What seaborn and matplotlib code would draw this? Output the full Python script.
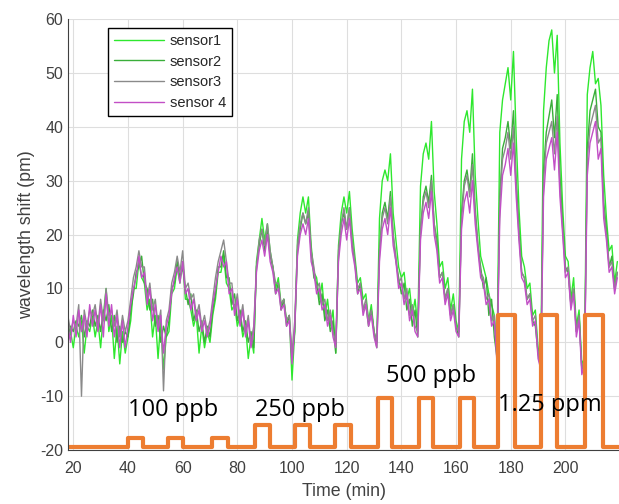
# -*- coding: utf-8 -*-
# Sensor response to gas pulses (wavelength shift vs time)

import numpy as np
import pandas as pd
import matplotlib
matplotlib.use("Agg")
import matplotlib.pyplot as plt
import seaborn as sns

sns.set_style("whitegrid")
plt.rcParams["font.family"] = ["Liberation Sans", "DejaVu Sans"]
plt.rcParams["axes.unicode_minus"] = False

# -------------------------------------------------
# STEP 1 — Data (one value per minute, 18 .. 219 min)
# -------------------------------------------------
time_min = list(range(18, 220))

sensor1 = [
    0, 2, -1, 3, 1, 4, -2, 3, 2, 5,
    1, 4, -1, 5, 10, 2, 5, -3, 3, -4,
    2, -2, 1, 4, 10, 10, 15, 12, 11, 6,
    8, 1, 5, -3, 4, -5, 1, 2, 9, 10,
    14, 11, 15, 8, 8, 6, 3, 5, -2, 3,
    -1, 2, 0, 5, 8, 13, 13, 16, 11, 10,
    6, 7, 3, 5, 1, 3, -3, 1, -2, 15,
    19, 23, 19, 22, 17, 14, 10, 12, 7, 8,
    4, 5, -7, 2, 19, 24, 27, 24, 27, 18,
    13, 12, 8, 11, 5, 8, 3, 6, -2, 18,
    24, 27, 24, 28, 21, 16, 11, 12, 8, 9,
    4, 7, 2, 0, 23, 30, 32, 30, 35, 24,
    19, 14, 12, 13, 8, 10, 5, 8, 3, 29,
    35, 37, 34, 41, 28, 22, 14, 15, 10, 12,
    6, 9, 4, 2, 34, 41, 43, 39, 47, 31,
    23, 16, 14, 12, 9, 7, 5, -2, 39, 45,
    48, 51, 45, 54, 38, 25, 16, 14, 10, 11,
    5, 6, -1, -3, 43, 51, 56, 58, 50, 57,
    37, 25, 16, 15, 8, 12, 3, 6, -4, -3,
    46, 51, 54, 48, 49, 44, 31, 23, 17, 18,
    11, 15,
]

sensor2 = [
    1, 3, 2, 4, 3, 5, 1, 4, 3, 6,
    3, 5, 2, 6, 4, 7, 2, 5, 0, 3,
    0, 2, 1, 6, 9, 13, 14, 16, 11, 10,
    6, 8, 3, 5, 0, 3, 1, 4, 10, 11,
    15, 12, 14, 10, 7, 9, 4, 6, 2, 4,
    0, 3, 1, 6, 9, 14, 14, 17, 12, 12,
    7, 9, 4, 6, 2, 4, 0, 2, -1, 14,
    18, 21, 17, 21, 16, 14, 9, 11, 6, 8,
    3, 5, -3, 2, 17, 21, 24, 22, 24, 17,
    12, 11, 7, 9, 4, 6, 2, 4, -2, 16,
    22, 24, 21, 25, 18, 15, 9, 11, 6, 7,
    3, 6, 2, -1, 17, 24, 26, 23, 28, 20,
    15, 12, 9, 11, 6, 8, 3, 6, 1, 21,
    27, 29, 26, 31, 22, 19, 12, 13, 8, 10,
    5, 7, 3, 1, 24, 30, 32, 28, 35, 25,
    18, 14, 10, 12, 5, 8, 1, -3, 27, 36,
    38, 41, 36, 43, 30, 21, 13, 12, 8, 9,
    4, 3, -2, -5, 32, 39, 42, 45, 38, 46,
    31, 22, 14, 13, 7, 10, 2, 5, -5, -4,
    36, 43, 45, 47, 40, 39, 26, 21, 14, 16,
    10, 13,
]

sensor3 = [
    5, 2, 4, 3, 7, -10, 6, 3, 6, 5,
    7, 3, 8, 4, 10, 5, 6, 3, 6, 1,
    5, 2, 4, 8, 12, 14, 17, 14, 14, 8,
    11, 6, 8, 3, 6, -9, 4, 6, 11, 13,
    16, 13, 17, 10, 11, 8, 9, 5, 7, 3,
    5, 2, 4, 8, 12, 15, 17, 19, 15, 11,
    11, 6, 9, 4, 7, 2, 5, 0, 3, 14,
    19, 21, 18, 22, 17, 14, 11, 11, 7, 8,
    4, 5, -2, 4, 18, 22, 24, 22, 25, 17,
    14, 10, 11, 7, 8, 4, 6, 2, 0, 17,
    22, 25, 21, 25, 19, 15, 10, 11, 6, 8,
    4, 6, 2, 0, 17, 23, 25, 22, 27, 20,
    16, 11, 12, 8, 10, 5, 7, 3, 2, 21,
    26, 28, 25, 30, 22, 18, 12, 13, 8, 10,
    5, 7, 3, 2, 23, 29, 31, 27, 33, 24,
    18, 13, 12, 8, 9, 4, 5, -3, 26, 34,
    36, 39, 34, 40, 29, 20, 13, 12, 8, 9,
    4, 5, -2, -4, 30, 37, 39, 41, 35, 42,
    29, 21, 13, 14, 7, 10, 2, 5, -5, -3,
    34, 40, 42, 44, 37, 38, 25, 20, 14, 15,
    10, 13,
]

sensor4 = [
    3, 0, 5, 1, 6, 2, 5, 1, 7, 3,
    6, 2, 7, 1, 9, 3, 7, 1, 5, -1,
    4, -1, 3, 7, 10, 12, 16, 12, 13, 7,
    10, 4, 7, 2, 5, -2, 3, 5, 9, 12,
    14, 11, 15, 9, 10, 6, 8, 4, 6, 2,
    4, 1, 3, 7, 10, 13, 16, 14, 15, 9,
    10, 5, 8, 3, 6, 1, 4, -1, 2, 13,
    17, 19, 16, 20, 15, 13, 9, 10, 6, 7,
    3, 4, -4, 3, 16, 20, 22, 20, 23, 15,
    13, 9, 10, 6, 7, 3, 5, 1, -1, 15,
    20, 23, 19, 23, 17, 14, 9, 10, 5, 7,
    3, 5, 1, -1, 15, 21, 23, 20, 25, 18,
    15, 10, 11, 7, 9, 4, 6, 2, 1, 19,
    24, 26, 23, 28, 20, 17, 11, 12, 7, 9,
    4, 6, 2, 1, 21, 26, 28, 24, 30, 22,
    17, 12, 11, 7, 8, 3, 4, -4, 23, 31,
    33, 36, 31, 37, 27, 19, 12, 11, 7, 8,
    3, 4, -3, -5, 27, 34, 36, 38, 32, 39,
    27, 20, 12, 13, 6, 9, 1, 4, -6, -4,
    31, 37, 39, 41, 34, 36, 23, 19, 13, 14,
    9, 12,
]

sensor_names = ["sensor1", "sensor2", "sensor3", "sensor 4"]
sensor_colors = ["#2ee82e", "#3aae3a", "#8a8a8a", "#c24fc6"]

# gas pulses (orange trace): start, end, level
pulse_start = [40.1, 54.8, 70.9, 86.6, 101.2, 115.9, 131.6, 146.6, 161.6, 175.5, 191.2, 207.0]
pulse_end = [45.6, 60.3, 76.6, 91.8, 106.7, 121.4, 136.7, 151.7, 166.4, 181.7, 197.1, 213.6]
pulse_level = [-17.7, -17.7, -17.7, -15.4, -15.4, -15.4, -10.3, -10.3, -10.3, 5.0, 5.0, 5.0]
base_level = -19.5

df = pd.DataFrame({"Time": time_min})
for name, vals in zip(sensor_names, [sensor1, sensor2, sensor3, sensor4]):
    df[name] = vals

# build step trace from the pulse table
step_x = [18.0]
step_y = [base_level]
for s, e, lv in zip(pulse_start, pulse_end, pulse_level):
    step_x += [s, s, e, e]
    step_y += [base_level, lv, lv, base_level]
step_x.append(220.0)
step_y.append(base_level)

# -------------------------------------------------
# STEP 2 — Plot
# -------------------------------------------------
fig = plt.figure(figsize=(6.19, 5.04), dpi=100)
ax = fig.add_axes([0.110, 0.107, 0.890, 0.855])

for name, col in zip(sensor_names, sensor_colors):
    sns.lineplot(data=df, x="Time", y=name, color=col, lw=1.0,
                 estimator=None, sort=False, label=name, ax=ax, legend=False)

sns.lineplot(x=step_x, y=step_y, color="#ed7d31", lw=3.0,
             estimator=None, sort=False, ax=ax, legend=False)

# concentration labels
txt_kw = dict(fontsize=17, family=["Open Sans", "DejaVu Sans"], color="black",
              ha="left", va="baseline")
ax.text(40.0, -13.6, "100 ppb", **txt_kw)
ax.text(86.5, -13.6, "250 ppb", **txt_kw)
ax.text(134.5, -7.4, "500 ppb", **txt_kw)
ax.text(175.3, -12.7, "1.25 ppm", **txt_kw)

ax.set_xlim(18.1, 219.6)
ax.set_ylim(-20, 60)
ax.set_xticks(range(20, 220, 20))
ax.set_yticks(range(-20, 70, 10))
ax.grid(True, color="#dedede", lw=0.8)
ax.tick_params(labelsize=11.5, colors="#404040", length=0)
ax.tick_params(axis="x", pad=8)

ax.set_xlabel("Time (min)", fontsize=12.8, color="#404040", labelpad=5)
ax.set_ylabel("wavelength shift (pm)", fontsize=12.8, color="#404040")

for side in ["top", "right"]:
    ax.spines[side].set_visible(False)
for side in ["left", "bottom"]:
    ax.spines[side].set_color("#404040")
    ax.spines[side].set_linewidth(0.8)

handles = ax.get_lines()[:4]
leg = ax.legend(handles, sensor_names, loc="upper left",
                bbox_to_anchor=(0.073, 0.979), borderaxespad=0,
                fontsize=10.5, handlelength=3.4, handletextpad=0.4,
                labelspacing=0.45, fancybox=False, framealpha=1,
                edgecolor="black", borderpad=0.4)
leg.get_frame().set_linewidth(1.0)

plt.savefig("out.png", dpi=100)
